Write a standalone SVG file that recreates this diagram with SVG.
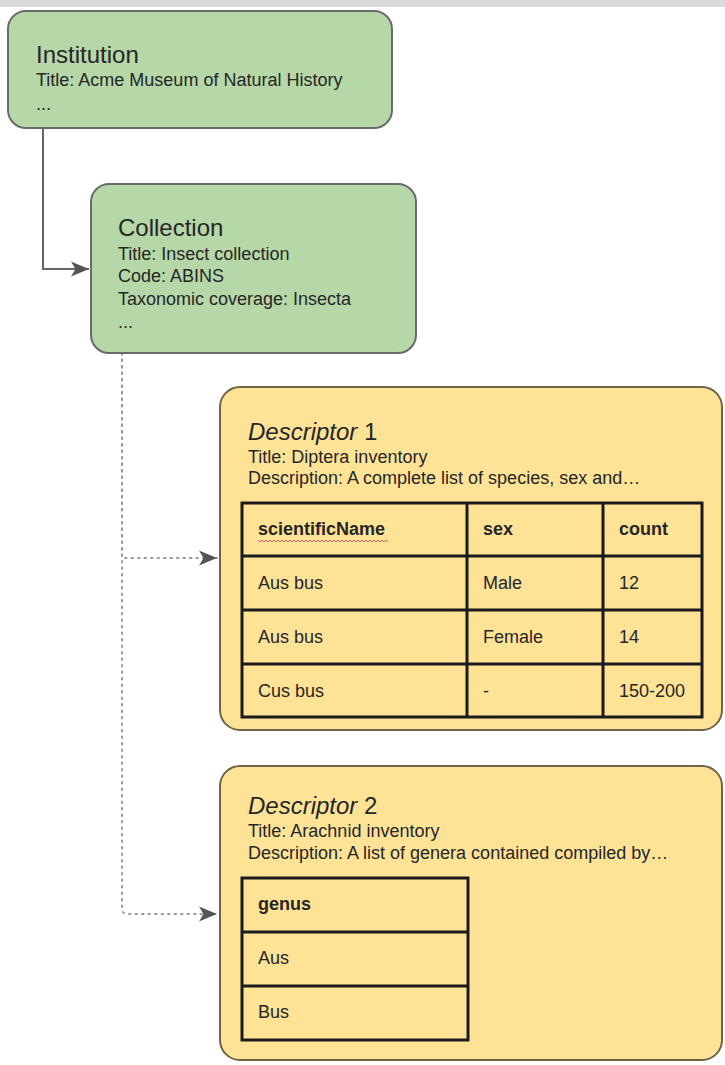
<svg xmlns="http://www.w3.org/2000/svg" width="725" height="1065" viewBox="0 0 725 1065">
  <style>
    text { font-family: "Liberation Sans", Arial, sans-serif; fill: #262626; }
    .h { font-size: 24px; }
    .b { font-size: 18px; }
    .th { font-size: 18px; font-weight: bold; }
    .green { fill: #b6d7a8; stroke: #6a6a6a; stroke-width: 2; }
    .yellow { fill: #fee397; stroke: #6e6548; stroke-width: 2; }
    .grid { fill: none; stroke: #1a1a1a; stroke-width: 3; }
    .solid { fill: none; stroke: #666666; stroke-width: 2; }
    .dotted { fill: none; stroke: #9a9a9a; stroke-width: 2; stroke-dasharray: 1.5 5; stroke-linecap: round; }
  </style>
  <defs>
    <marker id="arrow" markerUnits="userSpaceOnUse" markerWidth="20" markerHeight="18" refX="19" refY="9" orient="auto">
      <path d="M1,1.5 L19,9 L1,16.5 L5.5,9 Z" fill="#555555"/>
    </marker>
  </defs>
  <rect x="0" y="0" width="725" height="7" fill="#dadada"/>

  <g id="connectors">
    <path class="solid" d="M43,128 V269 H89" marker-end="url(#arrow)"/>
    <path class="dotted" d="M122,353 V558 H217" marker-end="url(#arrow)"/>
    <path class="dotted" d="M122,353 V908 Q122,914 128,914 H217" marker-end="url(#arrow)"/>
  </g>

  <g id="institution">
    <rect class="green" x="8" y="11" width="384" height="117" rx="18"/>
    <text class="h" x="36" y="63">Institution</text>
    <text class="b" x="36" y="86">Title: Acme Museum of Natural History</text>
    <text class="b" x="36" y="110">...</text>
  </g>

  <g id="collection">
    <rect class="green" x="91" y="184" width="325" height="169" rx="18"/>
    <text class="h" x="118" y="236">Collection</text>
    <text class="b" x="118" y="260">Title: Insect collection</text>
    <text class="b" x="118" y="282">Code: ABINS</text>
    <text class="b" x="118" y="305">Taxonomic coverage: Insecta</text>
    <text class="b" x="118" y="328">...</text>
  </g>

  <g id="descriptor1">
    <rect class="yellow" x="220" y="387" width="502" height="343" rx="20"/>
    <text class="h" x="248" y="440"><tspan font-style="italic">Descriptor</tspan> 1</text>
    <text class="b" x="248" y="463">Title: Diptera inventory</text>
    <text class="b" x="248" y="484">Description: A complete list of species, sex and…</text>
    <rect class="grid" x="242" y="503" width="460" height="214"/>
    <path class="grid" d="M242,556 H702 M242,610 H702 M242,664 H702 M467,503 V717 M603,503 V717"/>
    <text class="th" x="258" y="535">scientificName</text>
    <path d="M258,540 l2,2 l2,-2 l2,2 l2,-2 l2,2 l2,-2 l2,2 l2,-2 l2,2 l2,-2 l2,2 l2,-2 l2,2 l2,-2 l2,2 l2,-2 l2,2 l2,-2 l2,2 l2,-2 l2,2 l2,-2 l2,2 l2,-2 l2,2 l2,-2 l2,2 l2,-2 l2,2 l2,-2 l2,2 l2,-2 l2,2 l2,-2 l2,2 l2,-2 l2,2 l2,-2 l2,2 l2,-2 l2,2 l2,-2 l2,2 l2,-2 l2,2 l2,-2 l2,2 l2,-2 l2,2 l2,-2 l2,2 l2,-2 l2,2 l2,-2 l2,2 l2,-2 l2,2 l2,-2 l2,2 l2,-2 l2,2 l2,-2 l2,2 l2,-2 l2,2" fill="none" stroke="#e06666" stroke-width="1"/>
    <text class="th" x="483" y="535">sex</text>
    <text class="th" x="619" y="535">count</text>
    <text class="b" x="258" y="589">Aus bus</text>
    <text class="b" x="483" y="589">Male</text>
    <text class="b" x="619" y="589">12</text>
    <text class="b" x="258" y="643">Aus bus</text>
    <text class="b" x="483" y="643">Female</text>
    <text class="b" x="619" y="643">14</text>
    <text class="b" x="258" y="697">Cus bus</text>
    <text class="b" x="483" y="697">-</text>
    <text class="b" x="619" y="697">150-200</text>
  </g>

  <g id="descriptor2">
    <rect class="yellow" x="220" y="766" width="502" height="294" rx="20"/>
    <text class="h" x="248" y="814"><tspan font-style="italic">Descriptor</tspan> 2</text>
    <text class="b" x="248" y="837">Title: Arachnid inventory</text>
    <text class="b" x="248" y="859">Description: A list of genera contained compiled by…</text>
    <rect class="grid" x="242" y="878" width="226" height="162"/>
    <path class="grid" d="M242,932 H468 M242,986 H468"/>
    <text class="th" x="258" y="910">genus</text>
    <text class="b" x="258" y="964">Aus</text>
    <text class="b" x="258" y="1018">Bus</text>
  </g>
</svg>
